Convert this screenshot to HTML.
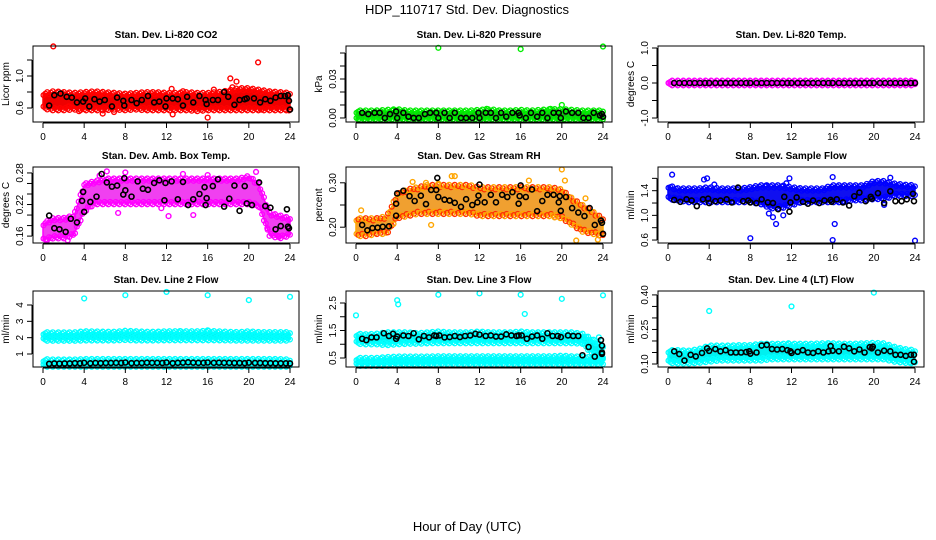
<!DOCTYPE html>
<html><head><meta charset="utf-8"><title>HDP_110717 Std. Dev. Diagnostics</title>
<style>
html,body{margin:0;padding:0;background:#fff;}
svg{display:block;font-family:"Liberation Sans",Arial,sans-serif;}
</style></head>
<body>
<svg id="chart" width="936" height="540" viewBox="0 0 936 540">
<text x="467" y="14" font-size="13" text-anchor="middle">HDP_110717  Std. Dev. Diagnostics</text>
<text x="467" y="531" font-size="13" text-anchor="middle">Hour of Day (UTC)</text>
</svg>
<script>
// ---- shared data ----
const hours = [0,1,2,3,4,5,6,7,8,9,10,11,12,13,14,15,16,17,18,19,20,21,22,23,24];
const xTicks = [0,4,8,12,16,20,24];
const xTickLabels = ["0","4","8","12","16","20","24"];

// Panel 1: CO2
const co2Lo = [0.62,0.6,0.6,0.61,0.6,0.6,0.6,0.61,0.6,0.61,0.6,0.6,0.6,0.6,0.6,0.59,0.6,0.6,0.6,0.6,0.6,0.6,0.6,0.6,0.6];
const co2Hi = [0.76,0.78,0.77,0.76,0.77,0.78,0.77,0.76,0.75,0.76,0.77,0.77,0.76,0.76,0.77,0.76,0.76,0.77,0.79,0.82,0.82,0.8,0.78,0.77,0.76];
const co2OutX = [1,18.2,18.8,20.9,16,12.6,5.8,3.5,12.5,16.6,18.4,13.6,6.9,2.5,21.2,23.9];
const co2OutY = [1.37,0.97,0.93,1.17,0.48,0.52,0.53,0.56,0.84,0.83,0.86,0.81,0.55,0.62,0.58,0.57];
const co2BlkX = [0.6,1.1,1.7,2.3,2.8,3.3,3.9,4.1,4.5,5.0,5.5,6.0,6.7,7.2,7.8,7.9,8.6,9.1,9.6,10.2,10.8,11.3,11.9,12.0,12.6,13.1,13.6,14.0,14.6,15.2,15.8,15.9,16.5,17.0,17.6,18.0,18.6,19.1,19.6,19.8,20.5,21.1,21.6,22.1,22.6,23.1,23.5,23.8,23.9,24];
const co2BlkY = [0.63,0.76,0.78,0.74,0.73,0.67,0.68,0.72,0.62,0.71,0.68,0.7,0.62,0.73,0.69,0.63,0.7,0.66,0.7,0.75,0.67,0.68,0.62,0.72,0.72,0.71,0.63,0.74,0.67,0.75,0.7,0.65,0.7,0.7,0.8,0.74,0.64,0.7,0.71,0.72,0.72,0.67,0.71,0.69,0.73,0.75,0.75,0.76,0.69,0.58];

// Panel 2: Pressure
const prLo = [0,0,0,0,0,0,0,0,0,0,0,0,0,0,0,0,0,0,0,0,0,0,0,0,0];
const prHi = [0.004,0.004,0.004,0.0045,0.005,0.004,0.004,0.004,0.004,0.004,0.004,0.004,0.0045,0.005,0.004,0.004,0.0045,0.004,0.0045,0.005,0.005,0.0045,0.004,0.004,0.004];
const prOutX = [8,16,24,20,12.7,18.9,3.6];
const prOutY = [0.054,0.053,0.055,0.010,0.007,0.007,0.006];
const prBlkX = [0.6,1.2,1.8,2.3,2.8,3.3,3.9,4.0,4.6,5.1,5.6,6.1,6.7,7.2,7.8,8.0,8.6,9.1,9.6,10.2,10.7,11.3,11.9,12.0,12.6,13.1,13.6,14.1,14.6,15.2,15.8,15.9,16.5,17.0,17.6,18.1,18.6,19.2,19.7,19.9,20.4,21.0,21.6,22.1,22.6,23.1,23.7,23.9,24];
const prBlkY = [0.004,0.003,0.004,0.004,0,0.003,0.005,0,0.004,0.001,0,0,0.003,0.004,0.004,0,0.004,0,0.004,0,0,0,0.004,0,0.004,0.004,0,0.004,0.001,0.004,0.004,0.002,0,0.004,0.001,0.004,0,0.004,0.004,0,0.005,0.004,0.004,0,0,0.004,0.002,0.003,0.001];

// Panel 3: Temp
const tLo = [0,0,0,0,0,0,0,0,0,0,0,0,0,0,0,0,0,0,0,0,0,0,0,0,0];
const tHi = [0,0,0,0,0,0,0,0,0,0,0,0,0,0,0,0,0,0,0,0,0,0,0,0,0];
const tOutX = [];
const tOutY = [];
const tBlkX = [0.6,1.1,1.6,2.1,2.6,3.1,3.6,4.0,4.6,5.1,5.6,6.1,6.6,7.1,7.6,8.0,8.6,9.1,9.6,10.1,10.6,11.1,11.6,12.0,12.6,13.1,13.6,14.1,14.6,15.1,15.6,16.0,16.6,17.1,17.6,18.1,18.6,19.1,19.6,20.0,20.6,21.1,21.6,22.1,22.6,23.1,23.6,24];
const tBlkY = [0,0,0,0,0,0,0,0,0,0,0,0,0,0,0,0,0,0,0,0,0,0,0,0,0,0,0,0,0,0,0,0,0,0,0,0,0,0,0,0,0,0,0,0,0,0,0,0];

// Panel 4: Amb box temp
const abLo = [0.155,0.16,0.16,0.165,0.21,0.225,0.225,0.225,0.225,0.225,0.225,0.225,0.225,0.225,0.225,0.225,0.225,0.225,0.225,0.225,0.225,0.22,0.165,0.16,0.165];
const abHi = [0.18,0.19,0.19,0.195,0.255,0.26,0.265,0.265,0.265,0.265,0.265,0.265,0.265,0.265,0.265,0.265,0.265,0.265,0.265,0.265,0.27,0.255,0.2,0.195,0.19];
const abOutX = [6.2,5.5,8.0,13.6,16.0,20.7,7.3,12.2,14.6,22.9,0.3,2.4,11.5,21.8];
const abOutY = [0.283,0.275,0.281,0.278,0.276,0.282,0.204,0.198,0.2,0.16,0.152,0.152,0.213,0.175];
const abBlkX = [0.6,1.1,1.6,2.2,2.7,3.3,3.8,3.9,4.0,4.6,5.2,5.7,6.2,6.7,7.2,7.8,7.9,8.0,8.6,9.2,9.7,10.2,10.8,11.3,11.8,11.9,12.5,13.1,13.6,14.1,14.6,15.2,15.7,15.8,15.9,16.5,17.0,17.6,18.1,18.6,19.1,19.6,19.8,20.3,21.0,21.6,22.1,22.6,23.1,23.7,23.8,23.9];
const abBlkY = [0.199,0.175,0.173,0.168,0.193,0.186,0.227,0.244,0.206,0.225,0.235,0.278,0.262,0.254,0.256,0.239,0.27,0.247,0.235,0.264,0.25,0.248,0.261,0.266,0.228,0.261,0.264,0.23,0.263,0.219,0.23,0.24,0.253,0.219,0.232,0.255,0.268,0.216,0.231,0.256,0.208,0.255,0.222,0.219,0.262,0.217,0.214,0.173,0.179,0.211,0.178,0.175];

// Panel 5: RH
const rhLo = [0.185,0.185,0.19,0.19,0.225,0.23,0.235,0.235,0.235,0.235,0.235,0.235,0.23,0.23,0.23,0.23,0.23,0.23,0.23,0.23,0.225,0.21,0.195,0.19,0.185];
const rhHi = [0.215,0.215,0.215,0.22,0.27,0.28,0.285,0.29,0.29,0.29,0.29,0.29,0.285,0.285,0.285,0.285,0.285,0.285,0.285,0.285,0.28,0.26,0.245,0.23,0.215];
const rhOutX = [0.5,20.0,20.3,8.0,9.6,9.3,6.8,7.3,5.5,19.3,22.3,21.4,23.5,16.8];
const rhOutY = [0.238,0.33,0.305,0.298,0.315,0.315,0.3,0.205,0.302,0.222,0.265,0.17,0.172,0.305];
const rhBlkX = [0.6,1.1,1.6,2.1,2.6,3.2,3.9,3.9,4.0,4.6,5.2,5.7,6.3,6.8,7.3,7.8,7.9,8.0,8.6,9.1,9.6,10.2,10.7,11.3,11.8,11.9,12.0,12.5,13.1,13.6,14.2,14.7,15.2,15.8,15.9,16.0,16.5,17.1,17.6,18.1,18.6,19.2,19.7,19.8,19.9,20.4,21.0,21.6,22.2,22.7,23.2,23.8,23.9,24.0];
const rhBlkY = [0.205,0.193,0.198,0.199,0.201,0.202,0.226,0.253,0.276,0.282,0.27,0.259,0.271,0.252,0.284,0.284,0.311,0.268,0.262,0.26,0.255,0.246,0.263,0.25,0.256,0.271,0.296,0.256,0.273,0.256,0.273,0.268,0.279,0.253,0.27,0.294,0.268,0.285,0.236,0.259,0.273,0.273,0.256,0.27,0.237,0.268,0.243,0.233,0.225,0.243,0.205,0.215,0.21,0.185];

// Panel 6: Sample flow
const sfLo = [1.3,1.28,1.25,1.25,1.25,1.25,1.25,1.25,1.25,1.22,1.15,1.15,1.2,1.25,1.25,1.25,1.25,1.25,1.28,1.28,1.3,1.3,1.35,1.35,1.35];
const sfHi = [1.45,1.4,1.4,1.4,1.42,1.4,1.4,1.4,1.42,1.45,1.45,1.45,1.42,1.4,1.4,1.4,1.45,1.45,1.45,1.45,1.52,1.52,1.48,1.46,1.45];
const sfOutX = [0.4,8,16,16.2,24,10.5,9.8,10.2,11.2,3.5,3.8,11.8,16,21.6,21.0,11.5,9.5,4.5];
const sfOutY = [1.66,0.63,0.6,0.86,0.59,0.86,1.03,0.97,1.0,1.58,1.6,1.6,1.62,1.61,1.17,1.52,1.48,1.5];
const sfBlkX = [0.6,1.2,1.8,2.3,2.8,3.4,3.9,4.0,4.6,5.1,5.7,6.2,6.8,7.3,7.8,8.0,8.6,9.1,9.7,10.2,10.7,11.3,11.8,11.9,12.5,13.1,13.6,14.1,14.7,15.2,15.8,15.9,16.4,17.0,17.6,18.1,18.6,19.2,19.7,19.8,20.4,21.0,21.6,22.1,22.7,23.2,23.8,23.9];
const sfBlkY = [1.25,1.22,1.26,1.24,1.15,1.26,1.27,1.2,1.23,1.24,1.26,1.21,1.45,1.23,1.24,1.21,1.2,1.26,1.21,1.2,1.1,1.3,1.06,1.21,1.29,1.22,1.19,1.24,1.2,1.24,1.25,1.22,1.26,1.21,1.16,1.31,1.37,1.23,1.3,1.27,1.36,1.2,1.39,1.23,1.23,1.26,1.35,1.23];

// Panel 7: Line 2 flow (two bands)
const l2Lo = [1.95,1.95,1.95,1.95,1.97,1.97,1.97,1.97,2.0,1.97,1.97,1.97,1.98,1.98,1.98,1.98,1.98,1.98,1.97,1.96,1.96,1.96,1.96,1.96,1.96];
const l2Hi = [2.2,2.18,2.18,2.18,2.25,2.24,2.22,2.22,2.28,2.25,2.22,2.22,2.25,2.25,2.25,2.25,2.28,2.25,2.22,2.2,2.25,2.2,2.2,2.2,2.2];
const l2bLo = [0.36,0.36,0.36,0.36,0.36,0.36,0.36,0.36,0.36,0.36,0.36,0.36,0.36,0.36,0.36,0.36,0.36,0.36,0.36,0.36,0.36,0.36,0.36,0.36,0.36];
const l2bHi = [0.55,0.52,0.52,0.52,0.55,0.55,0.55,0.55,0.55,0.55,0.55,0.55,0.55,0.55,0.55,0.55,0.55,0.55,0.55,0.55,0.55,0.55,0.55,0.55,0.52];
const l2OutX = [4,8,12,16,20,24,13.3,16.0];
const l2OutY = [4.4,4.6,4.8,4.6,4.3,4.5,2.4,2.45];
const l2BlkX = [0.6,1.1,1.6,2.1,2.6,3.1,3.6,4.0,4.6,5.1,5.6,6.1,6.6,7.1,7.6,8.0,8.6,9.1,9.6,10.1,10.6,11.1,11.6,12.0,12.6,13.1,13.6,14.1,14.6,15.1,15.6,16.0,16.6,17.1,17.6,18.1,18.6,19.1,19.6,20.0,20.6,21.1,21.6,22.1,22.6,23.1,23.6,24];
const l2BlkY = [0.4,0.42,0.41,0.42,0.42,0.44,0.43,0.46,0.43,0.45,0.44,0.45,0.45,0.46,0.45,0.48,0.44,0.45,0.45,0.47,0.46,0.46,0.45,0.48,0.44,0.46,0.47,0.49,0.47,0.46,0.46,0.48,0.46,0.47,0.46,0.46,0.45,0.45,0.44,0.47,0.45,0.45,0.44,0.44,0.43,0.43,0.43,0.42];

// Panel 8: Line 3 flow
const l3Lo = [1.1,1.08,1.08,1.05,1.08,1.1,1.1,1.12,1.12,1.12,1.12,1.12,1.12,1.12,1.12,1.12,1.12,1.12,1.12,1.12,1.12,1.12,1.1,0.7,0.55];
const l3Hi = [1.3,1.28,1.3,1.35,1.35,1.35,1.32,1.35,1.38,1.35,1.35,1.35,1.38,1.35,1.35,1.35,1.38,1.35,1.35,1.35,1.35,1.35,1.3,1.1,0.85];
const l3bLo = [0.3,0.3,0.3,0.3,0.32,0.32,0.32,0.32,0.33,0.33,0.33,0.33,0.33,0.33,0.33,0.33,0.33,0.33,0.33,0.33,0.33,0.33,0.33,0.33,0.32];
const l3bHi = [0.42,0.42,0.42,0.45,0.47,0.47,0.47,0.47,0.48,0.48,0.48,0.48,0.48,0.48,0.48,0.48,0.48,0.48,0.48,0.48,0.5,0.48,0.46,0.44,0.42];
const l3OutX = [0,4,4.1,8,12,16,16.4,20,24,23.6,23.9];
const l3OutY = [2.05,2.6,2.45,2.8,2.85,2.8,2.1,2.65,2.78,1.25,0.5];
const l3BlkX = [0.6,1.0,1.5,2.0,2.7,3.2,3.6,3.9,4.0,4.6,5.1,5.6,6.1,6.6,7.1,7.6,7.8,8.1,8.6,9.1,9.6,10.1,10.6,11.1,11.6,12.0,12.6,13.1,13.6,14.1,14.6,15.1,15.6,15.8,16.1,16.6,17.1,17.6,18.1,18.6,19.1,19.6,19.9,20.6,21.1,21.6,22.0,22.6,23.2,23.8,23.9,23.9,23.9];
const l3BlkY = [1.2,1.15,1.25,1.25,1.4,1.3,1.38,1.2,1.28,1.32,1.3,1.4,1.18,1.3,1.25,1.32,1.3,1.32,1.25,1.26,1.3,1.26,1.3,1.32,1.38,1.35,1.3,1.32,1.28,1.28,1.36,1.32,1.3,1.32,1.32,1.2,1.28,1.32,1.2,1.4,1.3,1.3,1.26,1.32,1.3,1.3,0.6,0.9,0.55,1.15,0.95,0.7,0.65];

// Panel 9: Line 4 flow
const l4Lo = [0.115,0.112,0.112,0.115,0.12,0.125,0.125,0.125,0.125,0.125,0.13,0.13,0.13,0.13,0.13,0.13,0.13,0.13,0.13,0.13,0.13,0.13,0.12,0.115,0.112];
const l4Hi = [0.15,0.15,0.148,0.155,0.17,0.17,0.17,0.172,0.172,0.178,0.178,0.178,0.178,0.178,0.178,0.18,0.18,0.178,0.178,0.18,0.182,0.18,0.165,0.155,0.15];
const l4OutX = [4,12,20,23.5,22.6,15.6,11.7,9.3];
const l4OutY = [0.33,0.35,0.41,0.105,0.12,0.19,0.19,0.185];
const l4BlkX = [0.6,1.1,1.6,2.2,2.7,3.3,3.8,4.0,4.6,5.1,5.6,6.1,6.6,7.1,7.6,7.9,8.0,8.6,9.1,9.6,10.1,10.6,11.1,11.6,11.9,12.0,12.6,13.1,13.6,14.1,14.6,15.1,15.6,15.8,16.0,16.6,17.1,17.6,18.1,18.6,19.1,19.6,19.8,19.9,20.4,21.0,21.6,22.1,22.6,23.1,23.6,23.9,23.9];
const l4BlkY = [0.155,0.143,0.115,0.14,0.133,0.148,0.168,0.157,0.165,0.155,0.16,0.15,0.15,0.15,0.152,0.155,0.145,0.15,0.18,0.183,0.165,0.163,0.165,0.16,0.155,0.148,0.153,0.16,0.15,0.148,0.155,0.15,0.155,0.178,0.158,0.155,0.175,0.168,0.155,0.163,0.15,0.173,0.168,0.175,0.15,0.158,0.155,0.14,0.14,0.135,0.14,0.14,0.11];

// ---- layout ----
const NS = 'http://www.w3.org/2000/svg';
const svg = document.getElementById('chart');
function mk(tag, attrs, parent){ const e=document.createElementNS(NS,tag); for(const k in attrs) e.setAttribute(k,attrs[k]); (parent||svg).appendChild(e); return e; }

const colLeft = [33,346,658];
const rowTop = [46,167,291];
const boxW = 266, boxH = 76;

const panels = [
 {name:'co2',title:'Stan. Dev. Li-820 CO2',ylab:'Licor ppm',col:0,row:0,dom:[0.425,1.375],ticks:[0.6,0.8,1.0,1.2],tl:['0.6','','1.0',''],color:'#ff0000',fill:'#ee0000',bands:[[co2Lo,co2Hi]],ox:co2OutX,oy:co2OutY,bx:co2BlkX,by:co2BlkY},
 {name:'pressure',title:'Stan. Dev. Li-820 Pressure',ylab:'kPa',col:1,row:0,dom:[-0.0031,0.0554],ticks:[0,0.01,0.02,0.03,0.04,0.05],tl:['0.00','','','0.03','',''],color:'#00ee00',fill:'#20a020',bands:[[prLo,prHi]],ox:prOutX,oy:prOutY,bx:prBlkX,by:prBlkY},
 {name:'temp',title:'Stan. Dev. Li-820 Temp.',ylab:'degrees C',col:2,row:0,dom:[-1.114,1.057],ticks:[-1,-0.5,0,0.5,1],tl:['-1.0','','0.0','','1.0'],color:'#ff00ff',fill:'#ff00ff',bands:[[tLo,tHi]],ox:tOutX,oy:tOutY,bx:tBlkX,by:tBlkY},
 {name:'amb-box-temp',title:'Stan. Dev. Amb. Box Temp.',ylab:'degrees C',col:0,row:1,dom:[0.1469,0.2913],ticks:[0.16,0.18,0.2,0.22,0.24,0.26,0.28],tl:['0.16','','','0.22','','','0.28'],color:'#ff00ff',fill:'#f040f0',bands:[[abLo,abHi]],ox:abOutX,oy:abOutY,bx:abBlkX,by:abBlkY},
 {name:'gas-stream-rh',title:'Stan. Dev. Gas Stream RH',ylab:'percent',col:1,row:1,dom:[0.1644,0.3356],ticks:[0.2,0.25,0.3],tl:['0.20','','0.30'],color:'#ffa500',fill:'#f0a030',edge2:'#ff3000',bands:[[rhLo,rhHi]],ox:rhOutX,oy:rhOutY,bx:rhBlkX,by:rhBlkY},
 {name:'sample-flow',title:'Stan. Dev. Sample Flow',ylab:'ml/min',col:2,row:1,dom:[0.552,1.784],ticks:[0.6,0.8,1.0,1.2,1.4,1.6],tl:['0.6','','1.0','','1.4',''],color:'#0000ff',fill:'#1010f0',bands:[[sfLo,sfHi]],ox:sfOutX,oy:sfOutY,bx:sfBlkX,by:sfBlkY},
 {name:'line2-flow',title:'Stan. Dev. Line 2 Flow',ylab:'ml/min',col:0,row:2,dom:[0.204,4.857],ticks:[1,2,3,4],tl:['1','2','3','4'],color:'#00ffff',fill:'#00f0f0',bands:[[l2Lo,l2Hi],[l2bLo,l2bHi]],ox:l2OutX,oy:l2OutY,bx:l2BlkX,by:l2BlkY},
 {name:'line3-flow',title:'Stan. Dev. Line 3 Flow',ylab:'ml/min',col:1,row:2,dom:[0.173,2.936],ticks:[0.5,1,1.5,2,2.5],tl:['0.5','','1.5','','2.5'],color:'#00ffff',fill:'#00f0f0',bands:[[l3Lo,l3Hi],[l3bLo,l3bHi]],ox:l3OutX,oy:l3OutY,bx:l3BlkX,by:l3BlkY},
 {name:'line4-flow',title:'Stan. Dev. Line 4 (LT) Flow',ylab:'ml/min',col:2,row:2,dom:[0.087,0.417],ticks:[0.1,0.15,0.2,0.25,0.3,0.35,0.4],tl:['0.10','','','0.25','','','0.40'],color:'#00ffff',fill:'#00f0f0',bands:[[l4Lo,l4Hi]],ox:l4OutX,oy:l4OutY,bx:l4BlkX,by:l4BlkY}
];

function interp(arr,h){ const i=Math.min(23,Math.floor(h)); const f=h-i; return arr[i]*(1-f)+arr[i+1]*f; }

panels.forEach(p=>{
  const L=colLeft[p.col], T=rowTop[p.row], R=L+boxW, B=T+boxH;
  const xs = h => L+10 + h*(247/24);
  const ys = v => B - (v-p.dom[0])/(p.dom[1]-p.dom[0])*boxH;
  const g = mk('g',{});
  
  
  const t = mk('text',{x:(L+R)/2,y:T-8,'font-size':10,'font-weight':'bold','text-anchor':'middle'},g);
  t.textContent=p.title;
  
  
  p.bands.forEach((bd,bi)=>{
    const lo=bd[0], hi=bd[1];
    let pts=[];
    hours.forEach((h,i)=>pts.push(xs(h)+','+(ys(hi[i])-1)));
    for(let i=hours.length-1;i>=0;i--) pts.push(xs(hours[i])+','+(ys(lo[i])+1));
    const poly = mk('polygon',{points:pts.join(' '),fill:p.fill,stroke:p.color,'stroke-width':1.5},g);
    
    
    for(let h=0.05; h<=24; h+=0.18){
      const k=Math.round(h/0.18);
      const off=(k%3)*1.2;
      [[hi,-off],[lo,off]].forEach(([a,o],j)=>{
        const c=mk('circle',{cx:xs(h),cy:ys(interp(a,h))+o,r:2.4,fill:'none',stroke:(p.edge2&&k%2)?p.edge2:p.color,'stroke-width':1.3},g);
        
        
      });
    }
  });
  p.ox.forEach((x,i)=>{
    const c=mk('circle',{cx:xs(x),cy:ys(p.oy[i]),r:2.4,fill:'none',stroke:p.color,'stroke-width':1.4},g);
    
    
  });
  p.bx.forEach((x,i)=>{
    const c=mk('circle',{cx:xs(x),cy:ys(p.by[i]),r:2.5,fill:'none',stroke:'#000','stroke-width':1.6},g);
    
    
  });
  const box=mk('rect',{x:L,y:T,width:boxW,height:boxH,fill:'none',stroke:'#000','stroke-width':1},g);
  
  
  const xa=mk('g',{},g);
  
  
  mk('line',{x1:xs(0),x2:xs(24),y1:B+1,y2:B+1,stroke:'#000'},xa);
  xTicks.forEach((v,i)=>{
    mk('line',{x1:xs(v),x2:xs(v),y1:B+1,y2:B+6,stroke:'#000'},xa);
    const tx=mk('text',{x:xs(v),y:B+18,'font-size':10,'text-anchor':'middle'},xa);
    tx.textContent=xTickLabels[i];
  });
  const ya=mk('g',{},g);
  
  
  const t0=p.ticks[0], t1=p.ticks[p.ticks.length-1];
  mk('line',{x1:L-1,x2:L-1,y1:ys(t0),y2:ys(t1),stroke:'#000'},ya);
  p.ticks.forEach((v,i)=>{
    mk('line',{x1:L-6,x2:L-1,y1:ys(v),y2:ys(v),stroke:'#000'},ya);
    if(p.tl[i]){
      const tx=mk('text',{x:0,y:0,'font-size':10,'text-anchor':'middle',transform:`translate(${L-10},${ys(v)}) rotate(-90)`},ya);
      tx.textContent=p.tl[i];
    }
  });
  const yl=mk('text',{x:0,y:0,'font-size':10,'text-anchor':'middle',transform:`translate(${L-24},${T+boxH/2}) rotate(-90)`},g);
  yl.textContent=p.ylab;
  
  
});
</script>
</body></html>
